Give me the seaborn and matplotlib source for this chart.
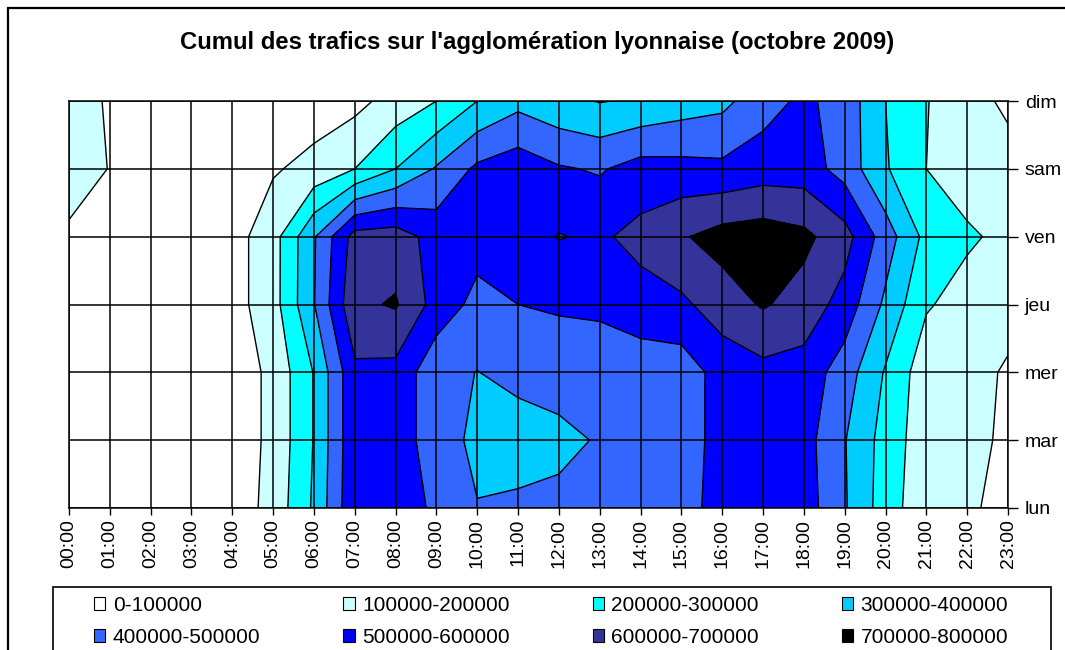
import numpy as np
import matplotlib
matplotlib.use("Agg")
import matplotlib.pyplot as plt
from matplotlib.patches import Rectangle, Patch
import seaborn as sns

sns.set_style("white")
plt.rcParams['font.family'] = ['Liberation Sans', 'DejaVu Sans']
plt.rcParams['text.color'] = 'black'
plt.rcParams['xtick.color'] = 'black'
plt.rcParams['ytick.color'] = 'black'

# hours (x) and days (y, bottom to top)
hours = ["00:00", "01:00", "02:00", "03:00", "04:00", "05:00", "06:00", "07:00",
         "08:00", "09:00", "10:00", "11:00", "12:00", "13:00", "14:00", "15:00",
         "16:00", "17:00", "18:00", "19:00", "20:00", "21:00", "22:00", "23:00"]
days = ["lun", "mar", "mer", "jeu", "ven", "sam", "dim"]

# cumulated traffic per hour (vehicles)
lun = [20000, 10000, 10000, 10000, 40000, 135000, 315000, 585000, 560000, 480000, 405000, 420000,
       430000, 440000, 450000, 470000, 530000, 550000, 550000, 410000, 250000, 130000, 120000, 60000]
mar = [20000, 10000, 10000, 10000, 40000, 125000, 305000, 580000, 540000, 460000, 370000, 350000,
       370000, 410000, 430000, 460000, 530000, 550000, 540000, 405000, 260000, 140000, 125000, 85000]
mer = [20000, 10000, 10000, 20000, 40000, 125000, 305000, 580000, 570000, 430000, 398000, 430000,
       450000, 440000, 440000, 445000, 540000, 570000, 560000, 450000, 290000, 140000, 130000, 90000]
jeu = [20000, 10000, 10000, 20000, 60000, 160000, 395000, 680000, 710000, 560000, 470000, 500000,
       510000, 520000, 560000, 580000, 650000, 710000, 660000, 560000, 380000, 210000, 160000, 130000]
ven = [90000, 60000, 20000, 20000, 60000, 160000, 390000, 640000, 650000, 560000, 540000, 550000,
       605000, 585000, 630000, 690000, 740000, 755000, 725000, 640000, 450000, 270000, 215000, 175000]
sam = [130000, 98000, 30000, 20000, 30000, 90000, 130000, 200000, 300000, 410000, 520000, 560000,
       510000, 490000, 540000, 533000, 523000, 550000, 550000, 460000, 310000, 200000, 150000, 130000]
dim = [130000, 93000, 40000, 30000, 30000, 30000, 50000, 70000, 140000, 200000, 300000, 370000,
       326000, 295000, 314000, 348000, 373000, 460000, 520000, 460000, 300000, 205000, 130000, 85000]

levels = [0, 100000, 200000, 300000, 400000, 500000, 600000, 700000, 800000]
level_colors = ["#FFFFFF", "#CCFFFF", "#00FFFF", "#00CCFF",
                "#3366FF", "#0000FF", "#333399", "#000000"]
legend_labels = ["0-100000", "100000-200000", "200000-300000", "300000-400000",
                 "400000-500000", "500000-600000", "600000-700000", "700000-800000"]

W, H = 1065, 650
fig = plt.figure(figsize=(W / 100, H / 100), dpi=100)

# outer chart border (right and bottom edges lie outside the picture)
fig.patches.append(Rectangle((8 / W, -0.05), 1.0, 1 - 8 / H + 0.05,
                             transform=fig.transFigure, fill=False, ec="black", lw=1.6))

ax = fig.add_axes([69 / W, 1 - 508 / H, (1008 - 69) / W, (508 - 101) / H])

Z = np.array([lun, mar, mer, jeu, ven, sam, dim], dtype=float)
X = np.arange(len(hours))
Y = np.arange(len(days))

ax.contourf(X, Y, Z, levels=levels, colors=level_colors)
ax.contour(X, Y, Z, levels=levels[1:-1], colors="black", linewidths=1.0)

for x in X:
    ax.axvline(x, color="black", lw=1.1, zorder=3)
for y in Y:
    ax.axhline(y, color="black", lw=1.1, zorder=3)

ax.set_xlim(0, len(hours) - 1)
ax.set_ylim(0, len(days) - 1)
ax.set_xticks(X)
ax.set_xticklabels(hours, rotation=90, fontsize=14)
ax.yaxis.tick_right()
ax.set_yticks(Y)
ax.set_yticklabels(days, fontsize=14)
ax.tick_params(axis="x", length=5, width=1, color="black", pad=3, bottom=True)
ax.tick_params(axis="y", length=7, width=1, color="black", pad=5, right=True, left=False)
for s in ax.spines.values():
    s.set_color("black")
    s.set_linewidth(1.1)

fig.text(537 / W, 1 - 42 / H, "Cumul des trafics sur l'agglomération lyonnaise (octobre 2009)",
         ha="center", va="center", fontsize=17.2, fontweight="bold")

# legend frame
fig.patches.append(Rectangle((53 / W, -0.05), (1051 - 53) / W, (650 - 587) / H + 0.05,
                             transform=fig.transFigure, fill=False, ec="black", lw=1.2))
handles = [Patch(facecolor=c, edgecolor="black", lw=0.8) for c in level_colors]
order = [0, 4, 1, 5, 2, 6, 3, 7]
fig.legend([handles[i] for i in order], [legend_labels[i] for i in order], ncol=4,
           loc="upper left", bbox_to_anchor=(94 / W, 1 - 596 / H),
           frameon=False, fontsize=15, handlelength=0.55, handleheight=0.55,
           handletextpad=0.35, labelspacing=0.62, columnspacing=3.98, borderaxespad=0,
           borderpad=0)

fig.savefig("out.png", dpi=100)
